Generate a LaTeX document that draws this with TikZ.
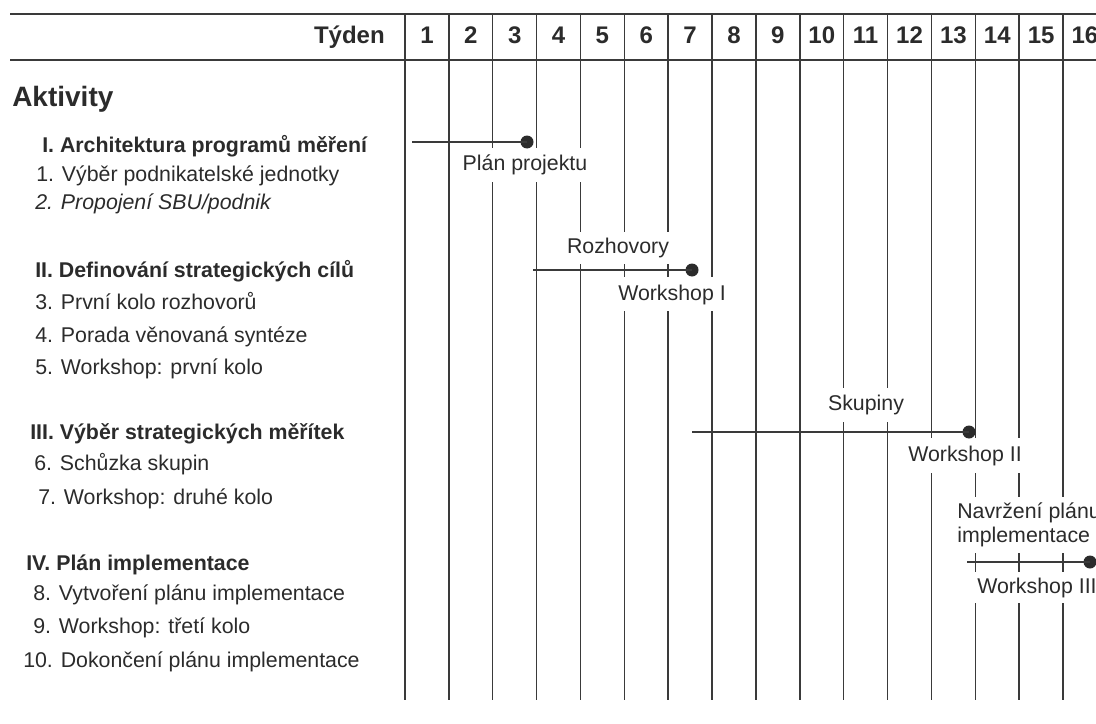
\documentclass[tikz,border=0pt]{standalone}
\usepackage{fontspec}
\setmainfont{Liberation Sans}
\definecolor{ink}{HTML}{2B2B2B}
\definecolor{rulec}{HTML}{3A3A3A}
\begin{document}
\begin{tikzpicture}[x=0.75pt,y=-0.75pt,
  every node/.style={inner sep=0pt, text=ink},
  hrule/.style={draw=rulec, line width=1.5pt},
  vrule/.style={draw=rulec, line width=1.1pt},
  bar/.style={draw=rulec, line width=1.5pt},
  dot/.style={circle, fill=ink, minimum size=9.75pt, inner sep=0pt},
  hdr/.style={font=\fontsize{18}{21}\selectfont\bfseries},
  big/.style={font=\fontsize{21}{25}\selectfont\bfseries, anchor=base west},
  head/.style={font=\fontsize{16}{19}\selectfont\bfseries, anchor=base west},
  item/.style={font=\fontsize{16}{19}\selectfont, anchor=base west},
  lbl/.style={font=\fontsize{16}{19}\selectfont},
]
\useasboundingbox (0,0) rectangle (1096,724);
% header rules
\draw[hrule] (10,14) -- (1096,14);
\draw[hrule] (10,60) -- (1096,60);
\node[hdr, anchor=base east] (tyden) at (385,44) {Týden};
\foreach \k in {1,...,16} \node[hdr, anchor=base] (w\k) at ({405+43.87*(\k-0.5)},44) {\k};
% activity list
\node[big] (akt) at (12,107) {Aktivity};
\node[head] (h1) at (42,152) {I. Architektura programů měření};
\node[item] (a1) at (36,181) {1. Výběr podnikatelské jednotky};
\node[item] (a2) at (35,209) {\itshape 2. Propojení SBU/podnik};
\node[head] (h2) at (35,277) {II. Definování strategických cílů};
\node[item] (a3) at (35,309) {3. První kolo rozhovorů};
\node[item] (a4) at (35,342) {4. Porada věnovaná syntéze};
\node[item] (a5) at (35,374) {5. Workshop: první kolo};
\node[head] (h3) at (30,439) {III. Výběr strategických měřítek};
\node[item] (a6) at (34,470) {6. Schůzka skupin};
\node[item] (a7) at (38,504) {7. Workshop: druhé kolo};
\node[head] (h4) at (26,570) {IV. Plán implementace};
\node[item] (a8) at (33,600) {8. Vytvoření plánu implementace};
\node[item] (a9) at (33,633) {9. Workshop: třetí kolo};
\node[item] (a10) at (23,667) {10. Dokončení plánu implementace};
% bar labels
\node[lbl, anchor=base] (lp) at (525,171) {Plán projektu};
\node[lbl, anchor=base] (lr) at (618,253) {Rozhovory};
\node[lbl, anchor=base] (lw1) at (672,300) {Workshop I};
\node[lbl, anchor=base] (ls) at (866,410) {Skupiny};
\node[lbl, anchor=base] (lw2) at (965,461) {Workshop II};
\node[lbl, anchor=base west, align=left, font=\fontsize{16}{17.3}\selectfont] (ln) at (957,542) {Navržení plánu\\implementace};
\node[lbl, anchor=base west] (lw3) at (977,593) {Workshop III};
% week columns, interrupted where a label lies over them
\draw[vrule] (405,14) -- (405,700);
\draw[vrule] (448.87,14) -- (448.87,700);
\draw[vrule] (492.74,14) -- (492.74,148) (492.74,182) -- (492.74,700);
\draw[vrule] (536.61,14) -- (536.61,148) (536.61,182) -- (536.61,700);
\draw[vrule] (580.48,14) -- (580.48,148) (580.48,182) -- (580.48,232) (580.48,264) -- (580.48,700);
\draw[vrule] (624.35,14) -- (624.35,232) (624.35,264) -- (624.35,277) (624.35,311) -- (624.35,700);
\draw[vrule] (668.22,14) -- (668.22,232) (668.22,264) -- (668.22,277) (668.22,311) -- (668.22,700);
\draw[vrule] (712.09,14) -- (712.09,277) (712.09,311) -- (712.09,700);
\draw[vrule] (755.96,14) -- (755.96,700);
\draw[vrule] (799.83,14) -- (799.83,700);
\draw[vrule] (843.70,14) -- (843.70,388) (843.70,422) -- (843.70,700);
\draw[vrule] (887.57,14) -- (887.57,388) (887.57,422) -- (887.57,700);
\draw[vrule] (931.44,14) -- (931.44,438) (931.44,473) -- (931.44,700);
\draw[vrule] (975.31,14) -- (975.31,438) (975.31,473) -- (975.31,497) (975.31,553) -- (975.31,572) (975.31,603) -- (975.31,700);
\draw[vrule] (1019.18,14) -- (1019.18,438) (1019.18,473) -- (1019.18,497) (1019.18,553) -- (1019.18,572) (1019.18,603) -- (1019.18,700);
\draw[vrule] (1063.05,14) -- (1063.05,497) (1063.05,553) -- (1063.05,572) (1063.05,603) -- (1063.05,700);
% bars
\coordinate (s1) at (412,142);
\node[dot] (d1) at (527,142) {};
\draw[bar] (s1) -- (d1.center);
\coordinate (s2) at (533,270);
\node[dot] (d2) at (692,270) {};
\draw[bar] (s2) -- (d2.center);
\coordinate (s3) at (692,432);
\node[dot] (d3) at (969,432) {};
\draw[bar] (s3) -- (d3.center);
\coordinate (s4) at (967,562);
\node[dot] (d4) at (1090,562) {};
\draw[bar] (s4) -- (d4.center);
\end{tikzpicture}
\end{document}
